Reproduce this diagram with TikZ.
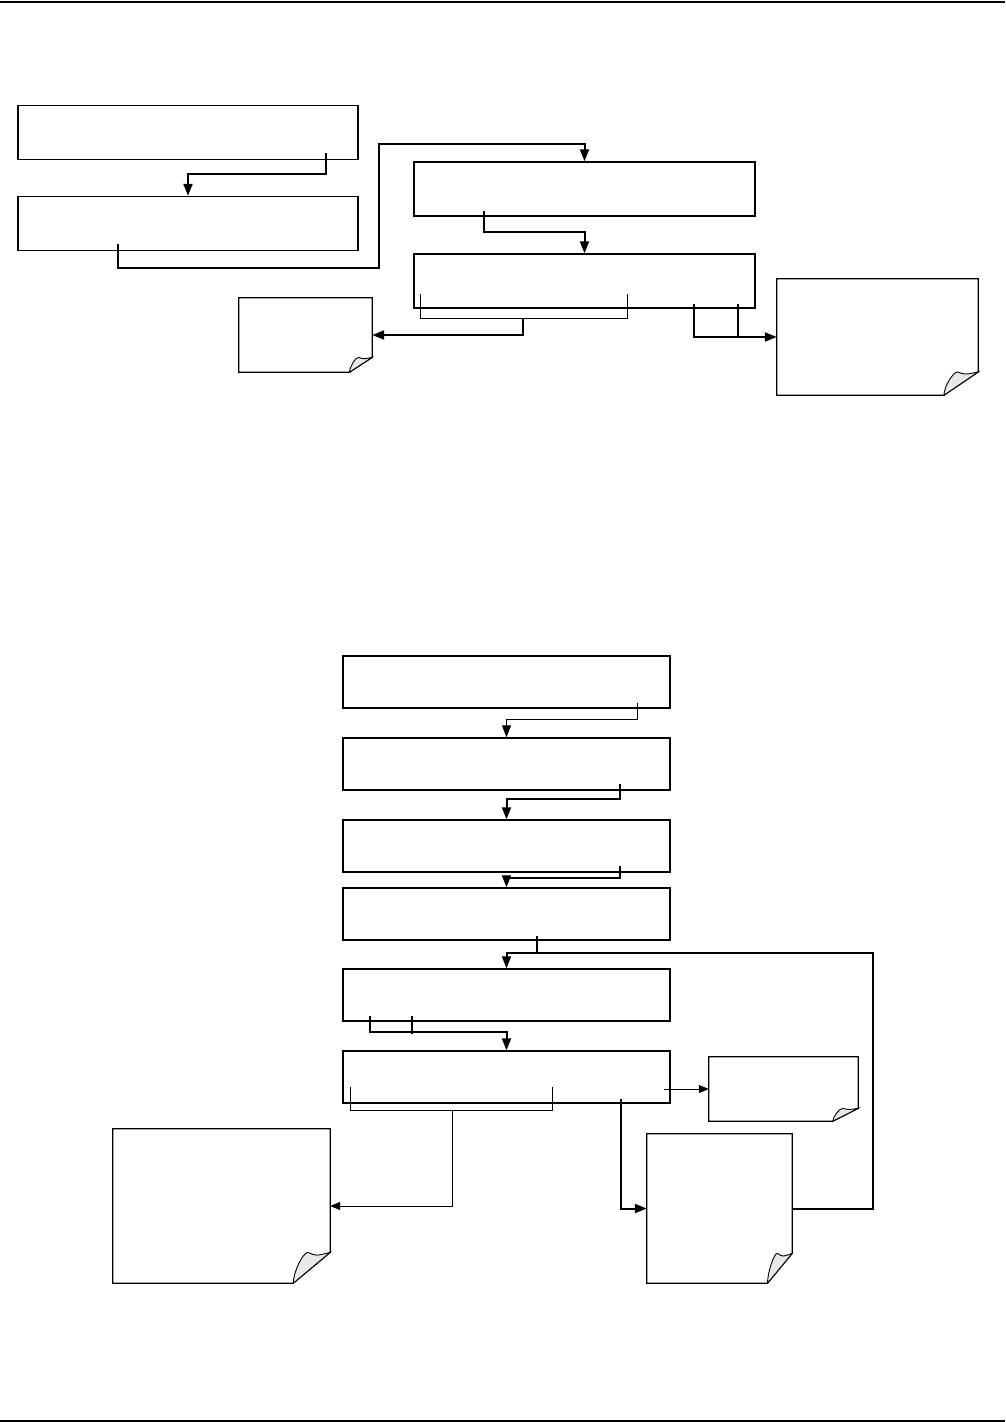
\documentclass[tikz,border=0pt]{standalone}
\usepackage{tikz}
\usetikzlibrary{arrows.meta,positioning,calc}

\begin{document}
\begin{tikzpicture}[
  x=1pt,y=-1pt,
  node distance=28.6pt,
  panel/.style={rectangle,draw,line width=1.4pt,inner sep=0pt,
                minimum width=340pt,minimum height=54pt},
  lowpanel/.style={panel,minimum width=327pt,minimum height=52pt},
  note/.style={rectangle,inner sep=0pt},
  paper/.style={draw,line width=1.3pt},
  curl/.style={fill=gray!18,draw,line width=0.9pt},
  link/.style={-{Triangle[length=12pt,width=9pt]},line width=2pt},
  finelink/.style={-{Triangle[length=12pt,width=9pt]},line width=1.1pt},
  smalllink/.style={-{Triangle[length=10pt,width=8pt]},line width=1pt},
  joint/.style={line width=2pt},
  finejoint/.style={line width=1.1pt},
]
  \useasboundingbox (0,0) rectangle (1005,1422);
  \draw[line width=2pt] (0,2) -- (1005,2);
  \draw[line width=1.5pt] (0,1421) -- (1005,1421);

  % upper chart
  \node[panel] (a1) at (188,132.5) {};
  \node[panel,below=35.6pt of a1] (a2) {};
  \node[panel,minimum width=341pt] (b1) at (584.5,189) {};
  \node[panel,minimum width=341pt,below=36.6pt of b1] (b2) {};
  \node[note,minimum width=133pt,minimum height=74pt] (n1) at (305.5,335) {};
  \node[note,minimum width=201pt,minimum height=116pt] (n2) at (877.5,337) {};

  \draw[link] ($(a1.south west)+(309,-7)$) |- ($(a2.north)+(0,-22)$) -- (a2.north);
  \draw[link] ($(a2.south west)+(101,-7)$) |- ($(a2.south east)+(20,17)$)
    |- ($(b1.north)+(0,-17)$) -- (b1.north);
  \draw[link] ($(b1.south west)+(71,-6)$) |- ($(b2.north)+(0,-21)$) -- (b2.north);
  \draw[finejoint] ($(b2.south west)+(7,-15)$) |- ($(b2.south west)+(214,10)$) -- ++(0,-25);
  \draw[link] ($(b2.south west)+(110,10)$) |- (n1.east);
  \draw[link] ($(b2.south west)+(281,-5)$) |- (n2.west);
  \draw[joint] ($(b2.south west)+(325,-5)$) -- ++(0,34);

  % lower chart
  \node[lowpanel] (c1) at (506.5,682) {};
  \node[lowpanel,below=of c1] (c2) {};
  \node[lowpanel,below=of c2] (c3) {};
  \node[lowpanel,below=14.6pt of c3] (c4) {};
  \node[lowpanel,below=27.6pt of c4] (c5) {};
  \node[lowpanel,below=of c5] (c6) {};
  \node[note,minimum width=217pt,minimum height=154pt] (n3) at (221.5,1206) {};
  \node[note,minimum width=149pt,minimum height=64pt] (n4) at (783.5,1089) {};
  \node[note,minimum width=145pt,minimum height=149pt] (n5) at (719.5,1208.5) {};
  \coordinate (jn) at ($(c4.south west)+(195,12)$);

  \draw[finelink] ($(c1.south west)+(295,-6)$) |- ($(c2.north)+(0,-18)$) -- (c2.north);
  \draw[link] ($(c2.south west)+(278,-7)$) |- ($(c3.north)+(0,-20)$) -- (c3.north);
  \draw[link] ($(c3.south west)+(278,-7)$) |- ($(c4.north)+(0,-9)$) -- (c4.north);
  \draw[joint] ($(c4.south west)+(195,-5)$) -- (jn);
  \draw[link] (jn) -| (c5.north);
  \draw[joint] (n5.east) -| ($(jn)+(336,0)$) -- (jn);
  \draw[link] ($(c5.south west)+(28,-6)$) |- ($(c6.north)+(0,-18)$) -- (c6.north);
  \draw[joint] ($(c5.south west)+(70,-6)$) -- ++(0,18);
  \draw[finejoint] ($(c6.south west)+(8,-17)$) |- ($(c6.south west)+(210,7)$) -- ++(0,-24);
  \draw[smalllink] ($(c6.south west)+(110,7)$) |- (n3.east);
  \draw[smalllink] ($(n4.west)+(-45,0)$) -- (n4.west);
  \draw[link] ($(c6.south west)+(279,-5)$) |- (n5.west);

  % pages with a turned corner
  \foreach \n in {n1,n2,n3,n4,n5}{
    \coordinate (r) at ($(\n.south east)!0.2!(\n.north east)$);
    \coordinate (b) at ($(\n.south east)!0.17!(\n.south west)$);
    \coordinate (q) at ($(r)!0.6!(r -| b)$);
    \draw[paper] (\n.north west) -- (\n.north east) -- (r) -- (b) -- (\n.south west) -- cycle;
    \filldraw[curl] (r) .. controls ($(r)!0.5!(q)!0.12!(b)$) .. (q)
      .. controls ($(q)!0.35!(b |- q)$) and ($(b)!0.35!(b |- q)$) .. (b) -- cycle;
  }
\end{tikzpicture}
\end{document}
